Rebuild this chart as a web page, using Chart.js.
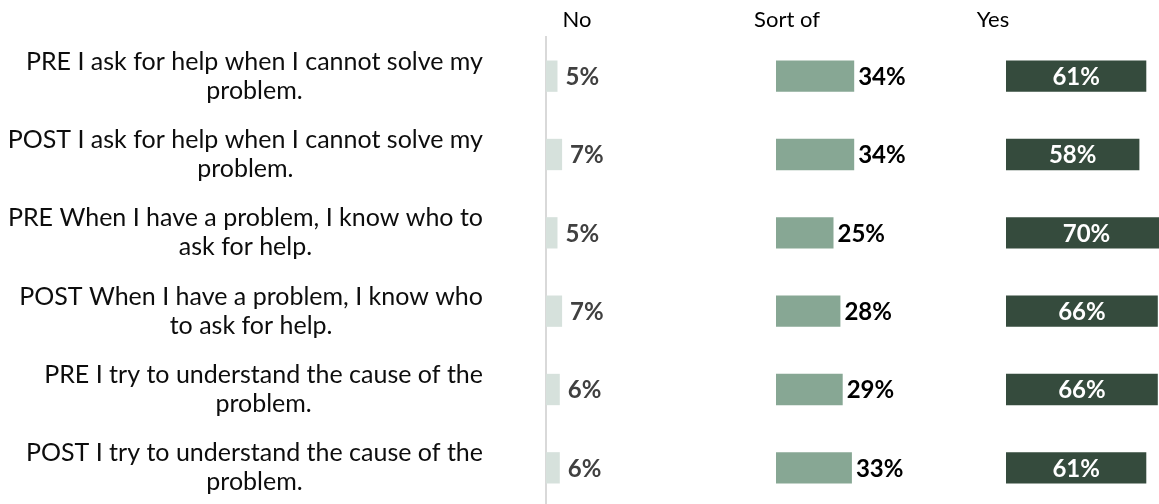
<!DOCTYPE html>
<html>
<head>
<meta charset="utf-8">
<script src="https://cdn.jsdelivr.net/npm/chart.js@4.4.0/dist/chart.umd.min.js"></script>
<style>
  html, body { margin: 0; padding: 0; background: #ffffff; overflow: hidden; width: 1159px; height: 504px; }
  #wrap { position: absolute; left: 0; top: 0; width: 1236px; height: 510px; }
</style>
</head>
<body>
<div id="wrap"><canvas id="chart" width="1236" height="510"></canvas></div>
<script>
// Survey statements, PRE and POST, each split over two lines
const categories = [
  ['PRE I ask for help when I cannot solve my', 'problem.'],
  ['POST I ask for help when I cannot solve my', 'problem.'],
  ['PRE When I have a problem, I know who to', 'ask for help.'],
  ['POST When I have a problem, I know who', 'to ask for help.'],
  ['PRE I try to understand the cause of the', 'problem.'],
  ['POST I try to understand the cause of the', 'problem.']
];

// Share of answers (%) per statement
const noValues     = [5, 7, 5, 7, 6, 6];
const sortOfValues = [34, 34, 25, 28, 29, 33];
const yesValues    = [61, 58, 70, 66, 66, 61];

// Column headings
const panelTitles = ['No', 'Sort of', 'Yes'];

const FONT = 'Lato, "Open Sans", sans-serif';
const headerCenters = [577, 787, 993];
const labelRightEdge = 483;
const labelLineHeight = 29;

// Statement text: each block right-aligned, its lines centred within the block
const categoryLabels = {
  id: 'categoryLabels',
  afterDraw(chart) {
    const ctx = chart.ctx;
    const yScale = chart.scales.y;
    ctx.save();
    ctx.font = '25px ' + FONT;
    ctx.fillStyle = '#0d0d0d';
    ctx.textAlign = 'center';
    ctx.textBaseline = 'middle';
    categories.forEach((lines, i) => {
      const w = Math.max(...lines.map(l => ctx.measureText(l).width));
      const cx = labelRightEdge - w / 2;
      const cy = yScale.getPixelForValue(i);
      lines.forEach((line, j) => {
        ctx.fillText(line, cx, cy + (j - (lines.length - 1) / 2) * labelLineHeight);
      });
    });
    // column headings
    ctx.font = '22px ' + FONT;
    ctx.fillStyle = '#000000';
    panelTitles.forEach((t, k) => ctx.fillText(t, headerCenters[k], 20));
    ctx.restore();
  }
};

// Percentage labels next to / inside the bars
const valueLabels = {
  id: 'valueLabels',
  afterDatasetsDraw(chart) {
    const ctx = chart.ctx;
    ctx.save();
    ctx.font = 'bold 24px ' + FONT;
    ctx.textBaseline = 'middle';
    chart.data.datasets.forEach((ds, di) => {
      const meta = chart.getDatasetMeta(di);
      meta.data.forEach((bar, i) => {
        const txt = ds.data[i] + '%';
        const style = ds.labelStyle;
        ctx.fillStyle = style.color;
        if (style.place === 'inside') {
          ctx.textAlign = 'center';
          ctx.fillText(txt, (bar.x + bar.base) / 2, bar.y + 1);
        } else {
          ctx.textAlign = 'left';
          ctx.fillText(txt, bar.x + style.gap, bar.y + 1);
        }
      });
    });
    ctx.restore();
  }
};

// Three side-by-side 0–100 % panels sharing one row axis
const panelAxis = () => ({
  type: 'linear',
  position: 'bottom',
  stack: 'panels',
  stackWeight: 1,
  min: 0,
  max: 100,
  display: false
});

new Chart(document.getElementById('chart'), {
  type: 'bar',
  data: {
    labels: categories,
    datasets: [
      { label: 'No', data: noValues, xAxisID: 'xNo', backgroundColor: '#d6e1dc',
        labelStyle: { color: '#404040', place: 'outside', gap: 8 } },
      { label: 'Sort of', data: sortOfValues, xAxisID: 'xSort', backgroundColor: '#87a794',
        labelStyle: { color: '#000000', place: 'outside', gap: 4 } },
      { label: 'Yes', data: yesValues, xAxisID: 'xYes', backgroundColor: '#354b3d',
        labelStyle: { color: '#ffffff', place: 'inside', gap: 0 } }
    ]
  },
  options: {
    indexAxis: 'y',
    responsive: false,
    animation: false,
    grouped: false,
    barPercentage: 0.4,
    categoryPercentage: 1.0,
    layout: { padding: { top: 37, bottom: 3, left: 0, right: 0 } },
    plugins: {
      legend: { display: false },
      tooltip: { enabled: false },
      title: { display: false }
    },
    scales: {
      y: {
        type: 'category',
        position: 'left',
        offset: true,
        grid: { display: false },
        ticks: { display: false },
        border: { display: true, color: '#d9d9d9', width: 2 },
        afterFit(scale) { scale.width = 546; }
      },
      xNo: Object.assign(panelAxis(), { weight: 1 }),
      xSort: Object.assign(panelAxis(), { weight: 2 }),
      xYes: Object.assign(panelAxis(), { weight: 3 })
    }
  },
  plugins: [categoryLabels, valueLabels]
});
</script>
</body>
</html>
